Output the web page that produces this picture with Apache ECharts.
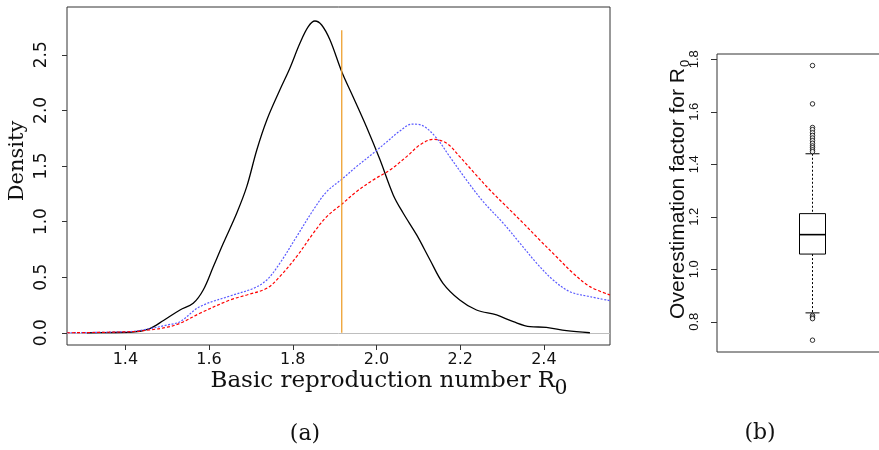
<!DOCTYPE html>
<html><head><meta charset="utf-8">
<script src="https://cdn.jsdelivr.net/npm/echarts@6/dist/echarts.min.js"></script>
<style>html,body{margin:0;padding:0;background:#fff}#c{width:879px;height:450px}</style>
</head><body><div id="c"></div>
<script>
// ---- Panel (a): density curves of R0 ----
const blackR0  = [1.308, 1.36, 1.415, 1.457, 1.491, 1.5305, 1.562, 1.586, 1.610, 1.634, 1.666, 1.690, 1.714, 1.738, 1.769, 1.793, 1.817, 1.837, 1.853, 1.869, 1.889, 1.917, 1.944, 1.976, 2.008, 2.040, 2.064, 2.096, 2.128, 2.159, 2.199, 2.239, 2.287, 2.327, 2.367, 2.406, 2.454, 2.51];
const blackDen = [0, 0.002, 0.006, 0.036, 0.11, 0.205, 0.265, 0.385, 0.594, 0.805, 1.075, 1.314, 1.644, 1.914, 2.183, 2.379, 2.603, 2.753, 2.804, 2.768, 2.633, 2.348, 2.123, 1.853, 1.56, 1.24, 1.075, 0.88, 0.655, 0.445, 0.295, 0.205, 0.16, 0.10, 0.055, 0.049, 0.019, 0];
const blueR0   = [1.261, 1.415, 1.457, 1.50, 1.5305, 1.578, 1.650, 1.706, 1.738, 1.769, 1.809, 1.849, 1.881, 1.917, 1.952, 1.992, 2.024, 2.056, 2.085, 2.112, 2.144, 2.175, 2.215, 2.255, 2.303, 2.343, 2.383, 2.422, 2.462, 2.51, 2.558];
const blueDen  = [0, 0.012, 0.036, 0.07, 0.10, 0.235, 0.331, 0.40, 0.475, 0.625, 0.864, 1.104, 1.269, 1.38, 1.494, 1.614, 1.715, 1.815, 1.877, 1.86, 1.749, 1.584, 1.374, 1.179, 0.985, 0.805, 0.625, 0.475, 0.37, 0.325, 0.289];
const redR0    = [1.261, 1.415, 1.457, 1.50, 1.5305, 1.578, 1.650, 1.690, 1.738, 1.769, 1.809, 1.849, 1.881, 1.917, 1.952, 1.992, 2.032, 2.072, 2.104, 2.136, 2.168, 2.199, 2.231, 2.271, 2.311, 2.351, 2.390, 2.430, 2.470, 2.510, 2.558];
const redDen   = [0, 0.01, 0.025, 0.05, 0.085, 0.175, 0.295, 0.34, 0.40, 0.505, 0.684, 0.895, 1.044, 1.156, 1.269, 1.374, 1.464, 1.584, 1.69, 1.74, 1.704, 1.584, 1.449, 1.284, 1.134, 0.985, 0.834, 0.684, 0.535, 0.415, 0.34];
const trueR0   = 1.917;
const trueLineTop = 2.72;
const r0Ticks      = [1.4, 1.6, 1.8, 2.0, 2.2, 2.4];
const densityTicks = [0, 0.5, 1.0, 1.5, 2.0, 2.5];

// ---- Panel (b): boxplot of overestimation factor ----
const boxStats = [0.834, 1.058, 1.132, 1.212, 1.44]; // lower whisker, Q1, median, Q3, upper whisker
const outliers = [1.776, 1.630, 1.54, 1.532, 1.52, 1.51, 1.50, 1.49, 1.48, 1.47, 1.463, 1.455, 1.448, 0.824, 0.818, 0.812, 0.73];
const factorTicks = [0.8, 1.0, 1.2, 1.4, 1.6, 1.8];

const pairs = (xs, ys) => xs.map((x, i) => [x, ys[i]]);
const fmt1 = v => Number(v).toFixed(1);
const FRAME = '#333';

const chart = echarts.init(document.getElementById('c'), null, {renderer: 'canvas'});
chart.setOption({
  animation: false,
  backgroundColor: '#fff',
  grid: [
    {left: 67, top: 7, width: 543, height: 338, show: true, borderColor: FRAME, borderWidth: 1, outerBoundsMode: 'none', containLabel: false},
    {left: 717, top: 54, width: 191, height: 298, show: true, borderColor: FRAME, borderWidth: 1, outerBoundsMode: 'none', containLabel: false}
  ],
  xAxis: [
    {gridIndex: 0, type: 'value', min: 1.2605, max: 2.558,
     axisLine: {show: false, onZero: false}, splitLine: {show: false},
     axisTick: {show: true, inside: false, length: 5, customValues: r0Ticks, lineStyle: {color: FRAME}},
     axisLabel: {customValues: r0Ticks, formatter: fmt1, margin: 7, fontFamily: 'DejaVu Sans', fontSize: 16, color: '#111'}},
    {gridIndex: 1, type: 'category', data: ['factor'], show: false}
  ],
  yAxis: [
    {gridIndex: 0, type: 'value', min: -0.11, max: 2.93,
     axisLine: {show: false, onZero: false}, splitLine: {show: false},
     axisTick: {show: true, inside: false, length: 5, customValues: densityTicks, lineStyle: {color: FRAME}},
     axisLabel: {customValues: densityTicks, formatter: fmt1, rotate: 90, margin: 17, fontFamily: 'DejaVu Sans', fontSize: 17, color: '#111'}},
    {gridIndex: 1, type: 'value', min: 0.685, max: 1.82,
     axisLine: {show: false, onZero: false}, splitLine: {show: false},
     axisTick: {show: true, inside: false, length: 6, customValues: factorTicks, lineStyle: {color: FRAME}},
     axisLabel: {customValues: factorTicks, formatter: fmt1, rotate: 90, margin: 16, fontFamily: 'Liberation Sans', fontSize: 13, color: '#111'}}
  ],
  series: [
    {type: 'line', xAxisIndex: 0, yAxisIndex: 0, showSymbol: false, smooth: 0.35, z: 3,
     data: pairs(blackR0, blackDen), lineStyle: {color: '#000', width: 1.3},
     markLine: {silent: true, symbol: ['none', 'none'], label: {show: false}, z: 1,
       lineStyle: {color: '#bebebe', type: 'solid', width: 1}, data: [{yAxis: 0}]}},
    {type: 'line', xAxisIndex: 0, yAxisIndex: 0, showSymbol: false, smooth: 0.35, z: 4,
     data: pairs(blueR0, blueDen), lineStyle: {color: '#5a5aff', width: 1.2, type: [2, 1.5]}},
    {type: 'line', xAxisIndex: 0, yAxisIndex: 0, showSymbol: false, smooth: 0.35, z: 5,
     data: pairs(redR0, redDen), lineStyle: {color: '#ff0000', width: 1.2, type: [3, 2]}},
    {type: 'line', xAxisIndex: 0, yAxisIndex: 0, showSymbol: false, z: 6,
     data: [[trueR0, 0], [trueR0, trueLineTop]], lineStyle: {color: '#eea030', width: 1.3}},
    {type: 'custom', xAxisIndex: 1, yAxisIndex: 1, z: 3,
     data: [[0].concat(boxStats)],
     encode: {x: 0, y: [1, 2, 3, 4, 5]},
     renderItem: (params, api) => {
       const c = i => api.coord([api.value(0), api.value(i)]);
       const lo = c(1), q1 = c(2), med = c(3), q3 = c(4), hi = c(5);
       const cx = lo[0], bw = 26, cw = 14;
       const solid = {stroke: '#000', lineWidth: 1, fill: null};
       const dash = {stroke: '#000', lineWidth: 1, lineDash: [2, 2]};
       return {type: 'group', children: [
         {type: 'line', shape: {x1: cx, y1: hi[1], x2: cx, y2: q3[1]}, style: dash},
         {type: 'line', shape: {x1: cx, y1: q1[1], x2: cx, y2: lo[1]}, style: dash},
         {type: 'line', shape: {x1: cx - cw / 2, y1: hi[1], x2: cx + cw / 2, y2: hi[1]}, style: solid},
         {type: 'line', shape: {x1: cx - cw / 2, y1: lo[1], x2: cx + cw / 2, y2: lo[1]}, style: solid},
         {type: 'rect', shape: {x: cx - bw / 2, y: q3[1], width: bw, height: q1[1] - q3[1]}, style: {stroke: '#000', lineWidth: 1, fill: '#fff'}},
         {type: 'line', shape: {x1: cx - bw / 2, y1: med[1], x2: cx + bw / 2, y2: med[1]}, style: {stroke: '#000', lineWidth: 1.6}}
       ]};
     }},
    {type: 'scatter', xAxisIndex: 1, yAxisIndex: 1, z: 4, symbol: 'circle', symbolSize: 4.5,
     data: outliers.map(v => [0, v]),
     itemStyle: {color: '#fff', borderColor: '#000', borderWidth: 1}}
  ],
  graphic: [
    {type: 'text', x: 18, y: 161, rotation: Math.PI / 2,
     style: {text: 'Density', font: '21px "DejaVu Serif"', fill: '#111', align: 'center', verticalAlign: 'middle'}},
    {type: 'text', x: 555, y: 381,
     style: {text: 'Basic reproduction number R', font: '23px "DejaVu Serif"', fill: '#111', align: 'right', verticalAlign: 'middle'}},
    {type: 'text', x: 555, y: 388,
     style: {text: '0', font: '24px "Liberation Serif"', fill: '#111', align: 'left', verticalAlign: 'middle'}},
    {type: 'text', x: 678, y: 68, rotation: Math.PI / 2,
     style: {text: 'Overestimation factor for R', font: '21px "Liberation Sans"', fill: '#111', align: 'right', verticalAlign: 'middle'}},
    {type: 'text', x: 685, y: 67, rotation: Math.PI / 2,
     style: {text: '0', font: '13px "Liberation Sans"', fill: '#111', align: 'left', verticalAlign: 'middle'}},
    {type: 'text', x: 305, y: 434,
     style: {text: '(a)', font: '22px "DejaVu Serif"', fill: '#111', align: 'center', verticalAlign: 'middle'}},
    {type: 'text', x: 760, y: 433,
     style: {text: '(b)', font: '22px "DejaVu Serif"', fill: '#111', align: 'center', verticalAlign: 'middle'}}
  ]
});
</script>
</body></html>
